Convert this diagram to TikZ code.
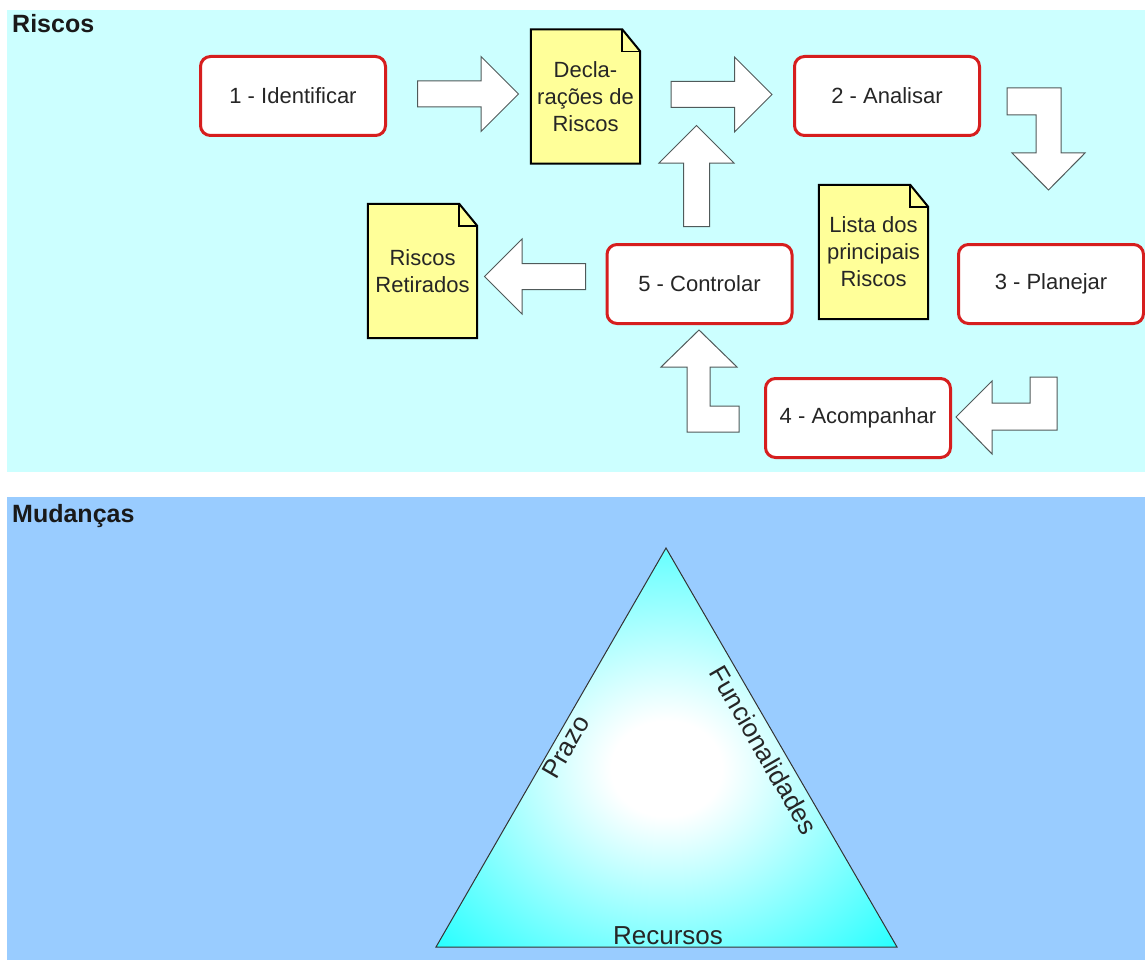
\documentclass[tikz,border=0pt]{standalone}
\usepackage{fontspec}
\setmainfont{Liberation Sans}
\usetikzlibrary{shapes.arrows}

\definecolor{riscosBg}{RGB}{204,255,255}
\definecolor{mudBg}{RGB}{153,204,255}
\definecolor{boxRed}{RGB}{214,30,30}
\definecolor{docYellow}{RGB}{255,255,153}
\definecolor{arrowGray}{RGB}{80,90,90}

\pgfdeclarelayer{behind}
\pgfsetlayers{behind,main}

\pgfdeclareradialshading{triGlow}{\pgfpoint{0bp}{-3bp}}{color(0bp)=(white); color(6bp)=(white); color(40bp)=(cyan); color(50bp)=(cyan)}

\tikzstyle{stepBox}=[draw=boxRed, line width=3pt, rounded corners=10pt, fill=white, minimum width=185pt, minimum height=79pt, text=black!85, font=\fontsize{22}{27}\selectfont]
\tikzstyle{docText}=[minimum width=109pt, minimum height=134pt, inner sep=0pt, align=center, text=black!85, font=\fontsize{22}{27}\selectfont]
\tikzstyle{docShape}=[draw=black, line width=2pt, fill=docYellow]
\tikzstyle{bigArrow}=[draw=arrowGray, fill=white, line width=1pt]
\tikzstyle{straightArrow}=[bigArrow, single arrow, single arrow head extend=24.5pt, single arrow tip angle=90, inner sep=12.5pt, minimum height=101pt]
\tikzstyle{titleText}=[font=\fontsize{25}{30}\selectfont\bfseries, text=black!90, anchor=base west, inner sep=0pt]
\tikzstyle{sideText}=[font=\fontsize{26}{31}\selectfont, text=black!85, inner sep=0pt]

\begin{document}
\begin{tikzpicture}[x=1pt,y=-1pt]
		\useasboundingbox (0,0) rectangle (1145,960);
		\begin{pgfonlayer}{behind}
		\fill[white] (0,0) rectangle (1145,960);
		\fill[riscosBg] (7,10) rectangle (1145,472);
		\fill[mudBg] (7,497) rectangle (1145,960);
		\end{pgfonlayer}
		
		\node[titleText] (riscos) at (12,33) {Riscos};
		\node[titleText] (mudancas) at (12,522) {Mudanças};
		
		% process steps
		\node[stepBox] (identificar) at (293,96) {1 - Identificar};
		\node[stepBox] (analisar) at (887,96) {2 - Analisar};
		\node[stepBox] (planejar) at (1051,284) {3 - Planejar};
		\node[stepBox] (acompanhar) at (858,418) {4 - Acompanhar};
		\node[stepBox] (controlar) at (699.5,284) {5 - Controlar};
		
		% documents
		\node[docText] (declaracoes) at (585.5,96.5) {Decla-\\rações de\\Riscos};
		\node[docText] (lista) at (873.5,252) {Lista dos\\principais\\Riscos};
		\node[docText] (retirados) at (422.5,271) {Riscos\\Retirados};
		\begin{pgfonlayer}{behind}
		\foreach \d in {declaracoes,lista,retirados}{
			\draw[docShape] (\d.south west) -- (\d.north west) -- ([xshift=-18pt]\d.north east) -- ([yshift=-22pt]\d.north east) -- (\d.south east) -- cycle;
			\draw[docShape, fill=none, line width=1.5pt] ([xshift=-18pt]\d.north east) |- ([yshift=-22pt]\d.north east);
		}
		\end{pgfonlayer}
		
		% block arrows
		\node[straightArrow] (toDecl) at (461.5,94) {};
		\node[straightArrow] (toAnalisar) at (715,94.5) {};
		\node[straightArrow, shape border rotate=90] (upDecl) at (696.5,182.5) {};
		\node[straightArrow, shape border rotate=180] (toRetirados) at (541.5,276.5) {};
		\draw[bigArrow] (1007,88) -- (1061,88) -- (1061,153) -- (1085,153) -- (1048.5,190) -- (1012,153) -- (1036,153) -- (1036,115) -- (1007,115) -- cycle;
		\draw[bigArrow] (956,417) -- (992,381) -- (992,403) -- (1030,403) -- (1030,377) -- (1057,377) -- (1057,430) -- (992,430) -- (992,454) -- cycle;
		\draw[bigArrow] (699,330) -- (737,367) -- (710,367) -- (710,406) -- (739,406) -- (739,432) -- (687,432) -- (687,367) -- (661,367) -- cycle;
		
		% triangle
		\coordinate (apex) at (666,548);
		\coordinate (left) at (436,947);
		\coordinate (right) at (897,947);
		\shadedraw[shading=triGlow, draw=black!80, line width=1pt] (apex) -- (left) -- (right) -- cycle;
		\node[sideText, rotate=60] (prazo) at (566,747) {Prazo};
		\node[sideText, rotate=-60] (funcionalidades) at (764,750) {Funcionalidades};
		\node[sideText, anchor=base] (recursos) at (668,944) {Recursos};
\end{tikzpicture}
\end{document}
